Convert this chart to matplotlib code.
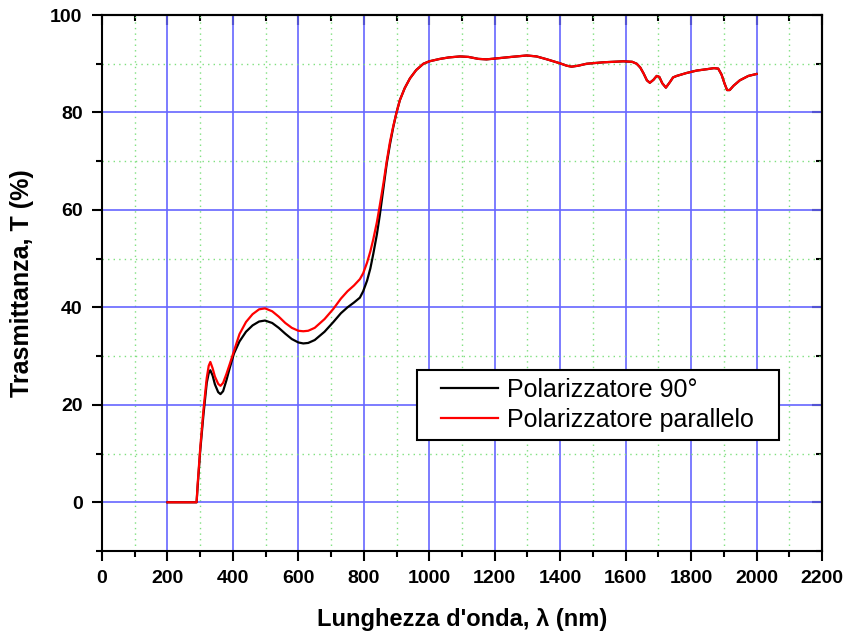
import matplotlib
matplotlib.use("Agg")
import matplotlib.pyplot as plt
from matplotlib.patches import Rectangle
from matplotlib.ticker import MultipleLocator

plt.rcParams["font.family"] = ["Liberation Sans", "DejaVu Sans"]

# wavelength (nm)
wavelength = [200, 289, 292, 300, 310, 320, 326, 331, 338, 345, 355, 362, 370,
              380, 390, 403, 420, 440, 460, 480, 498, 520, 540, 560, 580, 600,
              615, 630, 650, 680, 707, 730, 750, 770, 788, 798, 810, 820, 829,
              840, 849, 860, 870, 880, 890, 900, 910, 925, 941, 960, 982, 1000,
              1033, 1060, 1094, 1120, 1150, 1175, 1206, 1250, 1298, 1328, 1360,
              1399, 1420, 1435, 1455, 1481, 1532, 1593, 1620, 1634, 1645, 1655,
              1665, 1674, 1685, 1695, 1703, 1712, 1723, 1735, 1745, 1756, 1786,
              1817, 1850, 1870, 1883, 1893, 1902, 1910, 1918, 1930, 1949, 1975,
              2000]

# transmittance (%) - crossed polarizer (90 deg)
t_90 = [0, 0, 3, 10.5, 18, 24.5, 26.5, 27.1, 26, 24.2, 22.6, 22.2, 22.8,
        25, 27.5, 30.5, 33, 35, 36.3, 37.1, 37.3, 36.8, 35.8, 34.6, 33.5, 32.8,
        32.6, 32.7, 33.3, 35, 37, 38.8, 40, 41, 42, 43.3, 45.5, 48, 51,
        55, 59, 64.5, 69.5, 73.5, 77, 80, 82.5, 85, 87, 88.7, 90, 90.5,
        91.0, 91.3, 91.5, 91.4, 91.0, 90.9, 91.1, 91.4, 91.7, 91.5, 90.9,
        90.1, 89.6, 89.4, 89.6, 90.0, 90.3, 90.5, 90.4, 90.0, 89.2, 88.0,
        86.6, 86.1, 86.7, 87.5, 87.3, 86.0, 85.1, 86.2, 87.2, 87.5, 88.1,
        88.6, 88.9, 89.1, 89.0, 87.8, 86.0, 84.6, 84.6, 85.5, 86.6, 87.5,
        87.9]

# transmittance (%) - parallel polarizer
t_par = [0, 0, 3.5, 11, 19, 25.5, 28, 28.8, 27.5, 25.8, 24.3, 23.9, 24.5,
         26.3, 28.3, 31, 34.5, 37, 38.6, 39.6, 39.8, 39.2, 38.1, 36.8, 35.8, 35.2,
         35.1, 35.2, 35.8, 37.6, 39.7, 41.8, 43.3, 44.5, 45.8, 47, 49.2, 51.5, 54,
         57.5, 61, 65.5, 70, 74, 77.2, 80, 82.5, 85, 87, 88.7, 90, 90.5,
         91.0, 91.3, 91.5, 91.4, 91.0, 90.9, 91.1, 91.4, 91.7, 91.5, 90.9,
         90.1, 89.6, 89.4, 89.6, 90.0, 90.3, 90.5, 90.4, 90.0, 89.2, 88.0,
         86.6, 86.1, 86.7, 87.5, 87.3, 86.0, 85.1, 86.2, 87.2, 87.5, 88.1,
         88.6, 88.9, 89.1, 89.0, 87.8, 86.0, 84.6, 84.6, 85.5, 86.6, 87.5,
         87.9]

fig = plt.figure(figsize=(8.48, 6.34), dpi=100)
ax = fig.add_axes([0.1203, 0.1309, 0.849, 0.8454])

ax.plot(wavelength, t_90, color="black", linewidth=1.6, label="Polarizzatore 90°")
ax.plot(wavelength, t_par, color="red", linewidth=1.6, label="Polarizzatore parallelo")

ax.set_xlim(0, 2200)
ax.set_ylim(-10, 100)
ax.xaxis.set_major_locator(MultipleLocator(200))
ax.xaxis.set_minor_locator(MultipleLocator(100))
ax.yaxis.set_major_locator(MultipleLocator(20))
ax.yaxis.set_minor_locator(MultipleLocator(10))

# grids: blue major, dotted green minor
ax.grid(which="major", color="#6666ff", linewidth=1.2, linestyle="-")
ax.grid(which="minor", color="#7fe07f", linewidth=1.0, linestyle=(0, (1, 3)))
ax.set_axisbelow(True)

for sp in ax.spines.values():
    sp.set_linewidth(1.5)

ax.tick_params(which="both", direction="out", width=1.5, top=False, right=False)
ax.tick_params(which="major", length=7)
ax.tick_params(which="minor", length=4)
ax.tick_params(labelsize=14, pad=7)
for lbl in ax.get_xticklabels() + ax.get_yticklabels():
    lbl.set_fontweight("bold")

# inward mirror ticks on top and right
ax2 = ax.secondary_xaxis("top")
ax2.xaxis.set_major_locator(MultipleLocator(200))
ax2.xaxis.set_minor_locator(MultipleLocator(100))
ax2.tick_params(which="both", direction="in", labeltop=False, width=1.5)
ax2.tick_params(which="major", length=7)
ax2.tick_params(which="minor", length=4)
ay2 = ax.secondary_yaxis("right")
ay2.yaxis.set_major_locator(MultipleLocator(20))
ay2.yaxis.set_minor_locator(MultipleLocator(10))
ay2.tick_params(which="both", direction="in", labelright=False, width=1.5)
ay2.tick_params(which="major", length=7)
ay2.tick_params(which="minor", length=4)
for s in (ax2.spines.values(), ay2.spines.values()):
    for sp in s:
        sp.set_linewidth(1.5)

ax.set_xlabel("Lunghezza d'onda, λ (nm)", fontsize=17, fontweight="bold", labelpad=15)
ax.set_ylabel("Trasmittanza, T (%)", fontsize=18, fontweight="bold", labelpad=12)

# legend box drawn separately so the side padding can be wider than the top/bottom
ax.add_patch(Rectangle((0.4375, 0.207), 0.5025, 0.1307, transform=ax.transAxes,
                       facecolor="white", edgecolor="black", linewidth=1.5, zorder=4))
leg = ax.legend(loc="center left", bbox_to_anchor=(0.4708, 0.2724), fontsize=18,
                frameon=False, borderaxespad=0, borderpad=0,
                handlelength=2.3, handletextpad=0.35, labelspacing=0.25)
leg.set_zorder(5)

fig.savefig("out.png", dpi=100)
